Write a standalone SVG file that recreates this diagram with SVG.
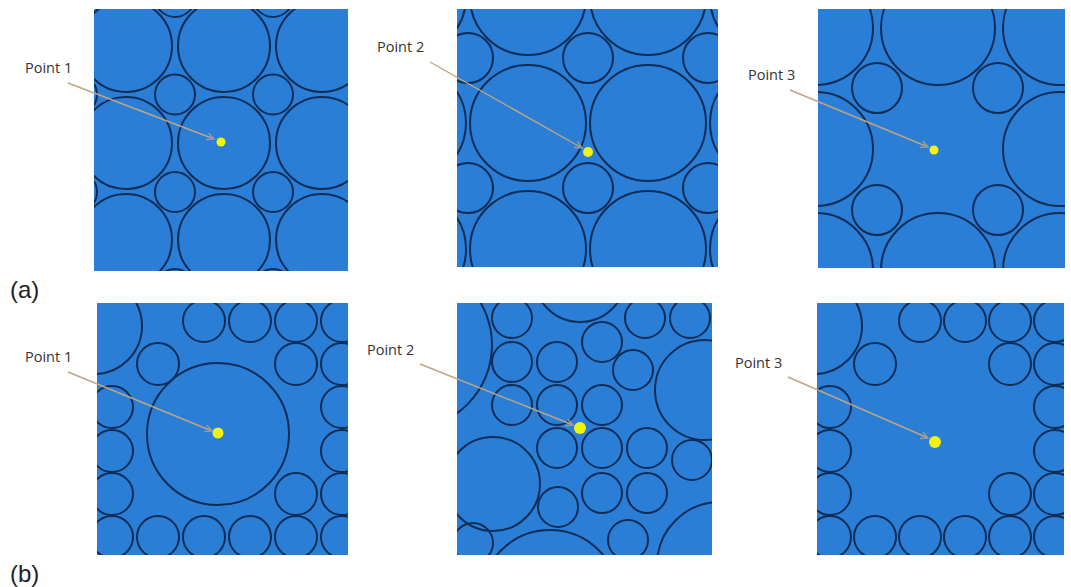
<svg xmlns="http://www.w3.org/2000/svg" width="1071" height="587" viewBox="0 0 1071 587">
<style>
.bg{fill:#2A7ED6}
.c{fill:none;stroke:#0F2D57;stroke-width:2}
.dot{fill:#F2F210}
.lbl{font-family:"Open Sans","Liberation Sans",sans-serif;font-size:14.5px;fill:#333}
.tag{font-family:"Liberation Sans",Arial,sans-serif;font-size:24px;fill:#222}
.ar{fill:none;stroke:#BFA584;stroke-width:1.4}
</style>
<defs>
<marker id="ah" viewBox="0 0 10 10" refX="9" refY="5" markerWidth="9" markerHeight="9" markerUnits="userSpaceOnUse" orient="auto">
<polyline points="1,1 9,5 1,9" fill="none" stroke="#9A9A9A" stroke-width="1.6"/>
</marker>
<clipPath id="k1"><rect x="94" y="9" width="254" height="262"/></clipPath>
<clipPath id="k2"><rect x="457" y="9" width="261" height="258"/></clipPath>
<clipPath id="k3"><rect x="818" y="9" width="247" height="259"/></clipPath>
<clipPath id="k4"><rect x="97" y="303" width="251" height="252"/></clipPath>
<clipPath id="k5"><rect x="457" y="303" width="255" height="252"/></clipPath>
<clipPath id="k6"><rect x="817" y="303" width="247" height="252"/></clipPath>
</defs>
<rect width="1071" height="587" fill="#fff"/>

<g id="panel-a1">
<rect class="bg" x="94" y="9" width="254" height="262"/>
<g clip-path="url(#k1)">
<circle class="c" cx="126" cy="46" r="46"/><circle class="c" cx="224" cy="46" r="46"/><circle class="c" cx="322" cy="46" r="46"/>
<circle class="c" cx="126" cy="143" r="46"/><circle class="c" cx="224" cy="143" r="46"/><circle class="c" cx="322" cy="143" r="46"/>
<circle class="c" cx="126" cy="240" r="46"/><circle class="c" cx="224" cy="240" r="46"/><circle class="c" cx="322" cy="240" r="46"/>
<circle class="c" cx="77" cy="-3" r="20"/><circle class="c" cx="175" cy="-3" r="20"/><circle class="c" cx="273" cy="-3" r="20"/>
<circle class="c" cx="77" cy="94.5" r="20"/><circle class="c" cx="175" cy="94.5" r="20"/><circle class="c" cx="273" cy="94.5" r="20"/>
<circle class="c" cx="77" cy="192" r="20"/><circle class="c" cx="175" cy="192" r="20"/><circle class="c" cx="273" cy="192" r="20"/>
<circle class="c" cx="77" cy="289" r="20"/><circle class="c" cx="175" cy="289" r="20"/><circle class="c" cx="273" cy="289" r="20"/>
</g>
<circle class="dot" cx="221" cy="142" r="4.5"/>
</g>

<g id="panel-a2">
<rect class="bg" x="457" y="9" width="261" height="258"/>
<g clip-path="url(#k2)">
<circle class="c" cx="408" cy="-3" r="58"/><circle class="c" cx="528" cy="-3" r="58"/><circle class="c" cx="648" cy="-3" r="58"/><circle class="c" cx="768" cy="-3" r="58"/>
<circle class="c" cx="408" cy="123" r="58"/><circle class="c" cx="528" cy="123" r="58"/><circle class="c" cx="648" cy="123" r="58"/><circle class="c" cx="768" cy="123" r="58"/>
<circle class="c" cx="408" cy="249" r="58"/><circle class="c" cx="528" cy="249" r="58"/><circle class="c" cx="648" cy="249" r="58"/><circle class="c" cx="768" cy="249" r="58"/>
<circle class="c" cx="468" cy="58" r="25"/><circle class="c" cx="588" cy="58" r="25"/><circle class="c" cx="708" cy="58" r="25"/>
<circle class="c" cx="468" cy="188" r="25"/><circle class="c" cx="588" cy="188" r="25"/><circle class="c" cx="708" cy="188" r="25"/>
</g>
<circle class="dot" cx="588" cy="152" r="5"/>
</g>

<g id="panel-a3">
<rect class="bg" x="818" y="9" width="247" height="259"/>
<g clip-path="url(#k3)">
<circle class="c" cx="816" cy="28" r="57"/><circle class="c" cx="938" cy="28" r="57"/><circle class="c" cx="1060" cy="28" r="57"/>
<circle class="c" cx="816" cy="149" r="57"/><circle class="c" cx="1060" cy="149" r="57"/>
<circle class="c" cx="816" cy="270" r="57"/><circle class="c" cx="938" cy="270" r="57"/><circle class="c" cx="1060" cy="270" r="57"/>
<circle class="c" cx="877" cy="88" r="25"/><circle class="c" cx="998" cy="88" r="25"/>
<circle class="c" cx="877" cy="210" r="25"/><circle class="c" cx="998" cy="210" r="25"/>
</g>
<circle class="dot" cx="934" cy="150" r="4.5"/>
</g>

<g id="panel-b1">
<rect class="bg" x="97" y="303" width="251" height="252"/>
<g clip-path="url(#k4)">
<circle class="c" cx="94" cy="326" r="48"/>
<circle class="c" cx="218" cy="434" r="71"/>
<circle class="c" cx="204" cy="321" r="21"/><circle class="c" cx="250" cy="321" r="21"/><circle class="c" cx="296" cy="321" r="21"/><circle class="c" cx="342" cy="321" r="21"/>
<circle class="c" cx="158" cy="364" r="21"/><circle class="c" cx="296" cy="364" r="21"/><circle class="c" cx="342" cy="364" r="21"/>
<circle class="c" cx="112" cy="407" r="21"/><circle class="c" cx="342" cy="407" r="21"/>
<circle class="c" cx="112" cy="451" r="21"/><circle class="c" cx="342" cy="451" r="21"/>
<circle class="c" cx="112" cy="494" r="21"/><circle class="c" cx="296" cy="494" r="21"/><circle class="c" cx="342" cy="494" r="21"/>
<circle class="c" cx="112" cy="537" r="21"/><circle class="c" cx="158" cy="537" r="21"/><circle class="c" cx="204" cy="537" r="21"/><circle class="c" cx="250" cy="537" r="21"/><circle class="c" cx="296" cy="537" r="21"/><circle class="c" cx="342" cy="537" r="21"/>
</g>
<circle class="dot" cx="218" cy="433" r="5.5"/>
</g>

<g id="panel-b2">
<rect class="bg" x="457" y="303" width="255" height="252"/>
<g clip-path="url(#k5)">
<circle class="c" cx="408" cy="345" r="84"/>
<circle class="c" cx="580" cy="276" r="46"/>
<circle class="c" cx="705" cy="390" r="50"/>
<circle class="c" cx="493" cy="484" r="47"/>
<circle class="c" cx="550" cy="599" r="69"/>
<circle class="c" cx="720" cy="565" r="63"/>
<circle class="c" cx="512" cy="318" r="20"/><circle class="c" cx="645" cy="318" r="20"/><circle class="c" cx="690" cy="318" r="20"/>
<circle class="c" cx="602" cy="342" r="20"/>
<circle class="c" cx="512" cy="362" r="20"/><circle class="c" cx="557" cy="362" r="20"/><circle class="c" cx="633" cy="370" r="20"/>
<circle class="c" cx="512" cy="405" r="20"/><circle class="c" cx="557" cy="405" r="20"/><circle class="c" cx="602" cy="405" r="20"/>
<circle class="c" cx="557" cy="448" r="20"/><circle class="c" cx="602" cy="448" r="20"/><circle class="c" cx="647" cy="448" r="20"/><circle class="c" cx="692" cy="460" r="20"/>
<circle class="c" cx="558" cy="507" r="20"/><circle class="c" cx="602" cy="493" r="20"/><circle class="c" cx="647" cy="493" r="20"/>
<circle class="c" cx="628" cy="540" r="20"/><circle class="c" cx="473" cy="543" r="20"/>
</g>
<circle class="dot" cx="580" cy="428" r="6"/>
</g>

<g id="panel-b3">
<rect class="bg" x="817" y="303" width="247" height="252"/>
<g clip-path="url(#k6)">
<circle class="c" cx="814" cy="326" r="48"/>
<circle class="c" cx="920" cy="321" r="21"/><circle class="c" cx="965" cy="321" r="21"/><circle class="c" cx="1010" cy="321" r="21"/><circle class="c" cx="1055" cy="321" r="21"/>
<circle class="c" cx="875" cy="364" r="21"/><circle class="c" cx="1010" cy="364" r="21"/><circle class="c" cx="1055" cy="364" r="21"/>
<circle class="c" cx="830" cy="407" r="21"/><circle class="c" cx="1055" cy="407" r="21"/>
<circle class="c" cx="830" cy="451" r="21"/><circle class="c" cx="1055" cy="451" r="21"/>
<circle class="c" cx="830" cy="494" r="21"/><circle class="c" cx="1010" cy="494" r="21"/><circle class="c" cx="1055" cy="494" r="21"/>
<circle class="c" cx="830" cy="537" r="21"/><circle class="c" cx="875" cy="537" r="21"/><circle class="c" cx="920" cy="537" r="21"/><circle class="c" cx="965" cy="537" r="21"/><circle class="c" cx="1010" cy="537" r="21"/><circle class="c" cx="1055" cy="537" r="21"/>
</g>
<circle class="dot" cx="935" cy="442" r="6"/>
</g>

<g id="connectors">
<line class="ar" x1="68" y1="83" x2="214" y2="139" marker-end="url(#ah)"/>
<line class="ar" x1="430" y1="62" x2="582" y2="148" marker-end="url(#ah)"/>
<line class="ar" x1="790" y1="90" x2="928" y2="147" marker-end="url(#ah)"/>
<line class="ar" x1="68" y1="372" x2="212" y2="431" marker-end="url(#ah)"/>
<line class="ar" x1="420" y1="364" x2="573" y2="425" marker-end="url(#ah)"/>
<line class="ar" x1="788" y1="377" x2="928" y2="438" marker-end="url(#ah)"/>
</g>

<g id="labels">
<text class="lbl" x="25" y="73">Point 1</text>
<text class="lbl" x="377" y="52">Point 2</text>
<text class="lbl" x="748" y="80">Point 3</text>
<text class="lbl" x="25" y="362">Point 1</text>
<text class="lbl" x="367" y="355">Point 2</text>
<text class="lbl" x="735" y="368">Point 3</text>
<text class="tag" x="10" y="298">(a)</text>
<text class="tag" x="10" y="582">(b)</text>
</g>
</svg>
